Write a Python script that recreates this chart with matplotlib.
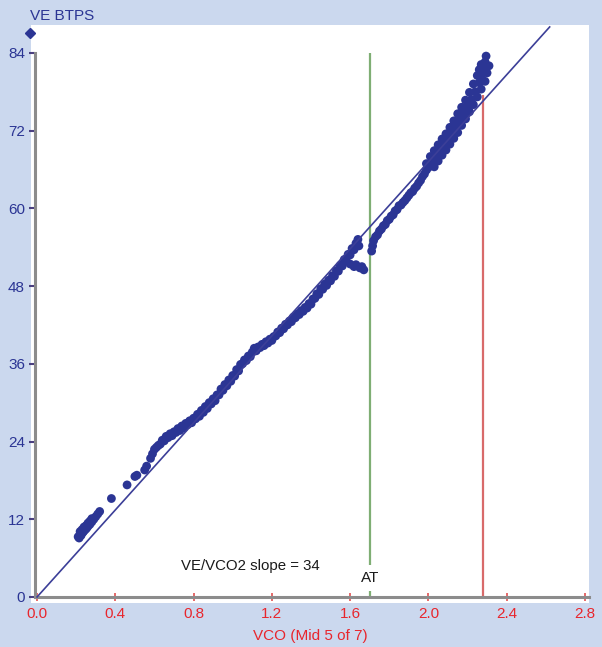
import matplotlib
matplotlib.use('Agg')
import matplotlib.pyplot as plt

plt.rcParams['font.family'] = ['Liberation Sans', 'DejaVu Sans']

# ---------------- data ----------------
x_ticks = [0.0, 0.4, 0.8, 1.2, 1.6, 2.0, 2.4, 2.8]
y_ticks = [0, 12, 24, 36, 48, 60, 72, 84]

# low-load cluster
vco_a = [0.21, 0.215, 0.22, 0.22, 0.225, 0.23, 0.23, 0.235, 0.24, 0.24, 0.245, 0.25, 0.25,
         0.255, 0.26, 0.26, 0.27, 0.27, 0.28, 0.28, 0.29, 0.30, 0.31, 0.32]
ve_a = [9.3, 9.1, 9.6, 10.1, 9.5, 9.9, 10.4, 10.0, 10.2, 10.8, 10.4, 10.5, 11.0,
        10.7, 10.9, 11.4, 11.2, 11.7, 11.6, 12.1, 12.0, 12.4, 12.8, 13.2]

# sparse transition points
vco_b = [0.38, 0.46, 0.50, 0.51, 0.55, 0.56]
ve_b = [15.2, 17.3, 18.6, 18.8, 19.6, 20.2]

# main band up to AT
vco_c = [0.58, 0.59, 0.60, 0.61, 0.62, 0.63, 0.64, 0.65, 0.66, 0.67, 0.68, 0.69, 0.70, 0.71,
         0.72, 0.73, 0.74, 0.75, 0.76, 0.77, 0.78, 0.79, 0.80, 0.81, 0.82, 0.83, 0.84, 0.85,
         0.86, 0.87, 0.88, 0.89, 0.90, 0.91, 0.92, 0.93, 0.94, 0.95, 0.96, 0.97, 0.98, 0.99,
         1.00, 1.01, 1.02, 1.03, 1.04, 1.05, 1.06, 1.07, 1.08, 1.09, 1.10, 1.11, 1.12, 1.13,
         1.14, 1.15, 1.16, 1.17, 1.18, 1.19, 1.20, 1.21, 1.22, 1.23, 1.24, 1.25, 1.26, 1.27,
         1.28, 1.29, 1.30, 1.31, 1.32, 1.33, 1.34, 1.35, 1.36, 1.37, 1.38, 1.39, 1.40, 1.41,
         1.42, 1.43, 1.44, 1.45, 1.46, 1.47, 1.48, 1.49, 1.50, 1.51, 1.52, 1.53, 1.54, 1.55,
         1.56, 1.57, 1.58, 1.59, 1.60, 1.61, 1.62, 1.63, 1.64, 1.645]
ve_c = [21.4, 22.1, 22.8, 23.1, 23.4, 23.6, 24.2, 24.1, 24.8, 24.6, 25.2, 24.9, 25.5, 25.4,
        26.0, 25.7, 26.4, 26.1, 26.8, 26.6, 27.2, 26.9, 27.6, 27.5, 28.2, 27.9, 28.8, 28.5,
        29.4, 29.1, 30.0, 29.8, 30.6, 30.3, 31.2, 31.2, 32.1, 31.9, 32.8, 32.6, 33.5, 33.3,
        34.2, 34.1, 35.1, 34.9, 35.9, 36.0, 36.6, 36.5, 37.2, 37.1, 37.8, 38.4, 38.0, 38.6,
        38.5, 39.0, 38.8, 39.4, 39.2, 39.8, 39.6, 40.2, 40.3, 40.9, 40.8, 41.5, 41.4, 42.1,
        42.0, 42.6, 42.5, 43.2, 43.1, 43.7, 43.6, 44.2, 44.1, 44.7, 44.6, 45.3, 45.2, 46.0,
        46.1, 46.8, 46.7, 47.6, 47.5, 48.3, 48.1, 48.9, 48.8, 49.6, 49.5, 50.4, 50.3, 51.2,
        51.1, 52.1, 51.9, 52.9, 52.8, 53.8, 53.6, 54.6, 55.2, 54.2]

# short dip just before AT
vco_d = [1.60, 1.62, 1.63, 1.65, 1.66, 1.67]
ve_d = [51.4, 51.0, 51.3, 50.8, 51.0, 50.5]

# after AT
vco_e = [1.71, 1.715, 1.72, 1.73, 1.74, 1.75, 1.76, 1.77, 1.78, 1.79, 1.80, 1.81, 1.82, 1.83,
         1.84, 1.85, 1.86, 1.87, 1.88, 1.89, 1.90, 1.91, 1.92, 1.93, 1.94, 1.95, 1.96, 1.97,
         1.98, 1.99]
ve_e = [53.4, 54.2, 55.0, 55.6, 55.9, 56.5, 56.8, 57.3, 57.5, 58.1, 58.3, 58.8, 59.0, 59.6,
        59.8, 60.4, 60.5, 60.9, 61.2, 61.6, 62.0, 62.4, 62.6, 63.1, 63.4, 63.9, 64.3, 64.9,
        65.3, 65.9]

# steep final segment
vco_f = [2.00, 2.02, 2.04, 2.06, 2.08, 2.10, 2.12, 2.14, 2.16, 2.18, 2.20, 2.22, 2.24, 2.26,
         2.27, 2.28, 2.29, 2.295,
         1.99, 2.01, 2.03, 2.05, 2.07, 2.09, 2.11, 2.13, 2.15, 2.17, 2.19, 2.21, 2.23, 2.25,
         2.26, 2.27,
         2.03, 2.05, 2.07, 2.09, 2.11, 2.13, 2.15, 2.17, 2.19, 2.21, 2.23, 2.25, 2.27, 2.29,
         2.30, 2.31]
ve_f = [66.3, 67.4, 68.3, 69.1, 70.0, 70.8, 71.7, 72.6, 73.6, 74.6, 75.7, 76.8, 78.0, 79.4,
        80.4, 81.5, 82.6, 83.5,
        66.9, 68.0, 68.9, 69.8, 70.7, 71.5, 72.5, 73.5, 74.6, 75.6, 76.7, 77.9, 79.2, 80.5,
        81.4, 82.2,
        66.4, 67.3, 68.2, 69.0, 69.9, 70.8, 71.7, 72.8, 73.8, 74.9, 76.0, 77.2, 78.4, 79.6,
        80.9, 82.0]

# regression line (slope 34) end points
fit_x = [0.0, 2.62]
fit_y = [0.0, 88.0]

at_x = 1.70      # anaerobic threshold
rcp_x = 2.28     # red marker line
rcp_top = 77.5

slope_text = 'VE/VCO2 slope = 34'

# ---------------- figure ----------------
BLUE = '#2b3594'
RED = '#e8262d'
BG = '#cbd8ee'

fig = plt.figure(figsize=(6.02, 6.47), dpi=100)
fig.patch.set_facecolor(BG)
ax = fig.add_axes([31/602, 44/647, 558/602, 578/647])
ax.set_facecolor('white')
ax.set_xlim(-0.031, 2.821)
ax.set_ylim(-0.93, 88.3)

all_x = vco_a + vco_b + vco_c + vco_d + vco_e + vco_f
all_y = ve_a + ve_b + ve_c + ve_d + ve_e + ve_f
ax.scatter(all_x, all_y, s=40, color=BLUE, edgecolors='none', zorder=3)

ax.plot(fit_x, fit_y, color='#3c3f98', lw=1.2, zorder=4)

ax.vlines(at_x, 5.0, 84, color='#7fae74', lw=1.6, zorder=2)
ax.vlines(at_x, 0, 0.9, color='#7fae74', lw=1.6, zorder=2)
ax.vlines(rcp_x, 0, rcp_top, color='#d86a6a', lw=1.6, zorder=2)

ax.text(0.735, 4.8, slope_text, fontsize=10.8, color='#1a1a1a', va='center', ha='left')
ax.text(at_x, 2.9, 'AT', fontsize=11, color='#1a1a1a', va='center', ha='center')

for s in ['top', 'right']:
    ax.spines[s].set_visible(False)
ax.spines['left'].set_position(('data', -0.012))
ax.spines['left'].set_bounds(0, 84)
ax.spines['bottom'].set_position(('data', 0))
ax.spines['bottom'].set_bounds(-0.012, 2.82)
for s in ['left', 'bottom']:
    ax.spines[s].set_color('#8c8c8c')
    ax.spines[s].set_linewidth(2.2)

ax.set_yticks(y_ticks)
ax.set_yticklabels([str(v) for v in y_ticks])
ax.set_xticks(x_ticks)
ax.set_xticklabels(['%.1f' % v for v in x_ticks])
ax.tick_params(axis='y', direction='out', length=4, width=1.5, color='#4a3f80',
               labelcolor=BLUE, labelsize=11, pad=3)
ax.tick_params(axis='x', direction='inout', length=6, width=1.2, color='#e05050',
               labelcolor=RED, labelsize=11, pad=4)

ax.set_xlabel('VCO (Mid 5 of 7)', color=RED, fontsize=11, labelpad=6)

fig.text(30/602, 1 - 16/647, 'VE BTPS', color=BLUE, fontsize=11, ha='left', va='center')
fig.lines.append(plt.Line2D([30/602], [1 - 33/647], marker='D', markersize=5,
                            color=BLUE, transform=fig.transFigure))

fig.savefig('out.png', dpi=100, facecolor=BG)
